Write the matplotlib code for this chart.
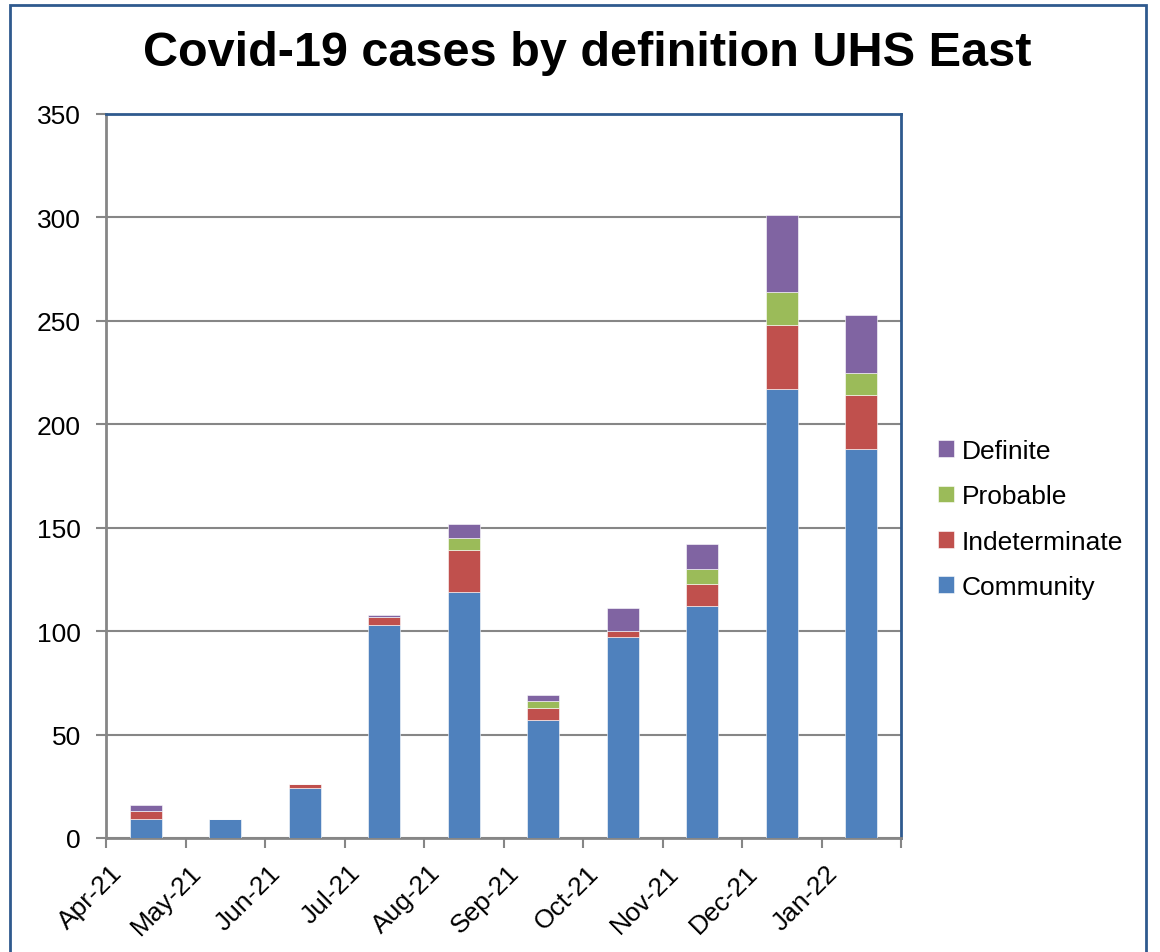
import matplotlib.pyplot as plt
import matplotlib.transforms as mtrans
import numpy as np
from matplotlib.patches import Rectangle

months = ["Apr-21", "May-21", "Jun-21", "Jul-21", "Aug-21", "Sep-21",
          "Oct-21", "Nov-21", "Dec-21", "Jan-22"]
community = [9, 9, 24, 103, 119, 57, 97, 112, 217, 188]
indeterminate = [4, 0, 2, 4, 20, 6, 3, 11, 31, 26]
probable = [0, 0, 0, 0, 6, 3, 0, 7, 16, 11]
definite = [3, 0, 0, 1, 7, 3, 11, 12, 37, 28]

series = [("Community", community, "#4F81BD"),
          ("Indeterminate", indeterminate, "#C0504D"),
          ("Probable", probable, "#9BBB59"),
          ("Definite", definite, "#8064A2")]

plt.rcParams['font.family'] = ['Liberation Sans', 'DejaVu Sans']

fig = plt.figure(figsize=(11.6, 9.53), dpi=100)
ax = fig.add_axes([106/1160, 1-839/953, (901-106)/1160, (839-115)/953])

x = np.arange(len(months))
bottom = np.zeros(len(months))
for name, vals, col in series:
    ax.bar(x, vals, width=0.4, bottom=bottom, color=col, label=name,
           edgecolor="#ffffff", linewidth=0.4, zorder=3)
    bottom += np.array(vals)

ax.set_xlim(-0.5, len(months) - 0.5)
ax.set_ylim(0, 350)
ax.set_yticks(range(0, 351, 50))
ax.yaxis.grid(True, color="#868686", lw=1.5, zorder=0)
ax.set_xticks(x)
ax.set_xticklabels(months, rotation=45, ha="right", rotation_mode="anchor")
ax.set_xticks(np.arange(-0.5, len(months)), minor=True)
ax.tick_params(axis="x", which="major", length=0, labelsize=19, pad=16)
ax.tick_params(axis="x", which="minor", length=7, width=1.5, color="#868686")
ax.tick_params(axis="y", length=7, width=1.5, color="#868686", labelsize=19, pad=11)

# labels sit a bit left of the bar centres
shift = mtrans.ScaledTranslation(-36/100, 0, fig.dpi_scale_trans)
for lab in ax.get_xticklabels():
    lab.set_transform(lab.get_transform() + shift)

for s in ["left", "bottom"]:
    ax.spines[s].set_color("#868686")
    ax.spines[s].set_linewidth(2)
for s in ["top", "right"]:
    ax.spines[s].set_color("#2F5A8E")
    ax.spines[s].set_linewidth(2)

h, l = ax.get_legend_handles_labels()
fig.legend(h[::-1], l[::-1], loc="center left", bbox_to_anchor=(914/1160, 1-520/953),
           frameon=False, fontsize=19, handlelength=0.6, handleheight=0.6,
           handletextpad=0.3, labelspacing=0.81)

fig.text(587/1160, 1-53/953, "Covid-19 cases by definition UHS East",
         ha="center", va="center", fontsize=35, fontweight="bold")

fig.patches.append(Rectangle((10/1160, -0.05), (1146-10)/1160, 1.05-6/953,
                             transform=fig.transFigure, fill=False,
                             edgecolor="#2F5A8E", lw=2))

fig.savefig("out.png", dpi=100)
